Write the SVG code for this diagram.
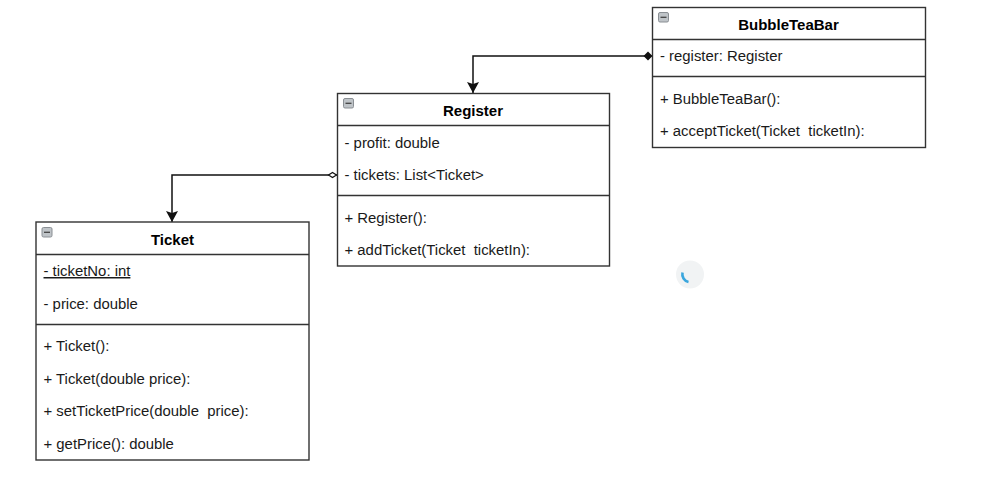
<svg xmlns="http://www.w3.org/2000/svg" width="1006" height="479" viewBox="0 0 1006 479">
<style>
.box{fill:#fff;stroke:#333;stroke-width:1.4}
.div{stroke:#333;stroke-width:1.4;fill:none}
.t{font-family:"Liberation Sans",Arial,sans-serif;font-size:14.9px;fill:#1a1a1a;white-space:pre}
.h{font-family:"Liberation Sans",Arial,sans-serif;font-size:15px;font-weight:bold;fill:#000;text-anchor:middle}
.ic{fill:#bfc4c8;stroke:#8a8f94;stroke-width:1}
.icm{stroke:#444;stroke-width:1.3}
.c{fill:none;stroke:#111;stroke-width:1.5}
</style>
<defs>
<g id="toggle"><rect class="ic" x="0" y="0" width="10" height="9.500" rx="1.500"/><line class="icm" x1="2" y1="4.800" x2="8" y2="4.800"/></g>
<marker id="arrow" markerUnits="userSpaceOnUse" markerWidth="12" markerHeight="13" refX="11" refY="6.500" orient="auto"><path d="M0 0.500L11 6.500L0 12.500L2 6.500Z" fill="#111"/></marker>
<marker id="filled" markerUnits="userSpaceOnUse" markerWidth="12" markerHeight="12" refX="0.500" refY="6" orient="auto"><path d="M0.500 6L5 1.500L9.500 6L5 10.500Z" fill="#111"/></marker>
<marker id="open" markerUnits="userSpaceOnUse" markerWidth="12" markerHeight="10" refX="0.500" refY="5" orient="auto"><path d="M1 5L5 2.500L9 5L5 7.500Z" fill="#fff" stroke="#111" stroke-width="1.200"/></marker>
</defs>
<rect width="1006" height="479" fill="#fff"/>
<g id="connectors">
<path class="c" d="M652.500 56H473V93" marker-start="url(#filled)" marker-end="url(#arrow)"/>
<path class="c" d="M337 175H172V222" marker-start="url(#open)" marker-end="url(#arrow)"/>
</g>
<g id="BubbleTeaBar">
<rect class="box" x="652.500" y="7.500" width="273" height="140"/>
<path class="div" d="M652.500 39.500H925.500M652.500 76.500H925.500"/>
<use href="#toggle" x="658.500" y="12.500"/>
<text class="h" x="788.500" y="30">BubbleTeaBar</text>
<text class="t" x="660" y="61">- register: Register</text>
<text class="t" x="660" y="104">+ BubbleTeaBar():</text>
<text class="t" x="660" y="136">+ acceptTicket(Ticket  ticketIn):</text>
</g>
<g id="Register">
<rect class="box" x="337.500" y="93.500" width="272" height="172.500"/>
<path class="div" d="M337.500 125.500H609.500M337.500 195.500H609.500"/>
<use href="#toggle" x="343.500" y="98.500"/>
<text class="h" x="473" y="116">Register</text>
<text class="t" x="344.500" y="148">- profit: double</text>
<text class="t" x="344.500" y="180">- tickets: List&lt;Ticket&gt;</text>
<text class="t" x="344.500" y="223">+ Register():</text>
<text class="t" x="344.500" y="255">+ addTicket(Ticket  ticketIn):</text>
</g>
<g id="Ticket">
<rect class="box" x="36" y="222" width="273" height="238"/>
<path class="div" d="M36 254.500H309M36 324.500H309"/>
<use href="#toggle" x="42" y="227.500"/>
<text class="h" x="172.500" y="245">Ticket</text>
<text class="t" x="43.500" y="276" text-decoration="underline">- ticketNo: int</text>
<text class="t" x="43.500" y="309">- price: double</text>
<text class="t" x="43.500" y="351">+ Ticket():</text>
<text class="t" x="43.500" y="384">+ Ticket(double price):</text>
<text class="t" x="43.500" y="416">+ setTicketPrice(double  price):</text>
<text class="t" x="43.500" y="449">+ getPrice(): double</text>
</g>
<g id="spinner">
<circle cx="690" cy="274.500" r="14" fill="#f1f3f4"/>
<path d="M682.500 272.500A8 8 0 0 0 688.500 282" fill="none" stroke="#3aa6dd" stroke-width="2.600"/>
</g>
</svg>
